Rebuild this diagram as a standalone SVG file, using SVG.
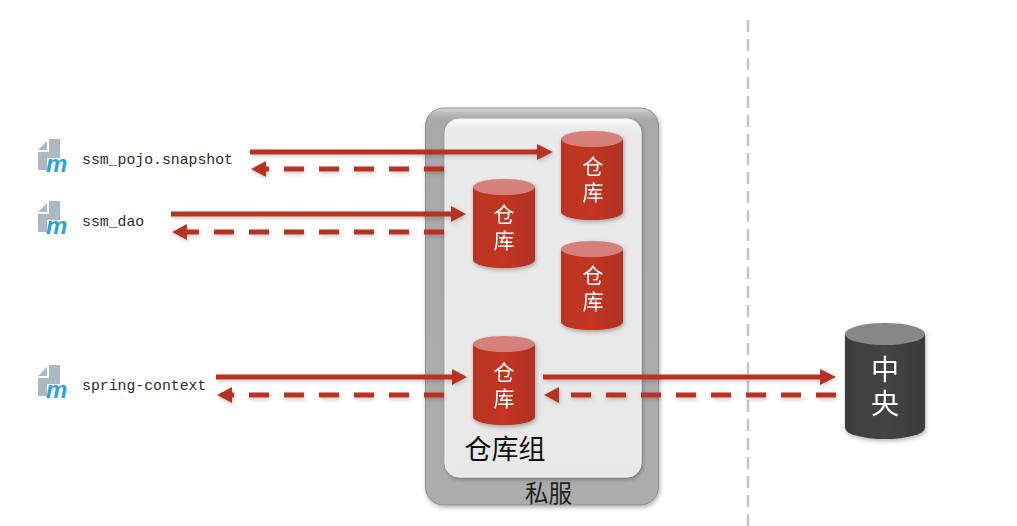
<svg xmlns="http://www.w3.org/2000/svg" width="1017" height="526" viewBox="0 0 1017 526">
<style>
.cjk{font-family:"Noto Sans CJK SC","Noto Sans CJK JP",sans-serif}
.cyl{font-size:21px;fill:#fff;writing-mode:vertical-rl;letter-spacing:5px}
.big{font-size:28px;fill:#fff;writing-mode:vertical-rl;letter-spacing:6px}
.mono{font-family:"Liberation Mono","DejaVu Sans Mono",monospace;font-size:14.8px;fill:#2a2a2a}
.solid{fill:none;stroke:#b83324;stroke-width:5}
.dash{fill:none;stroke:#b83324;stroke-width:5;stroke-dasharray:20 15}
.head{fill:#b83324}
.mm{font-family:"Liberation Sans",sans-serif;font-weight:700;font-style:italic;font-size:24px;fill:#2ea3da}
</style>
<defs>
<linearGradient id="red" x1="0" x2="1" y1="0" y2="0"><stop offset="0" stop-color="#b83322"/><stop offset=".5" stop-color="#c23624"/><stop offset="1" stop-color="#b03020"/></linearGradient>
<linearGradient id="dark" x1="0" x2="1" y1="0" y2="0"><stop offset="0" stop-color="#3d3d3d"/><stop offset=".5" stop-color="#444"/><stop offset="1" stop-color="#3a3a3a"/></linearGradient>
<linearGradient id="outer" x1="0" x2="0" y1="0" y2="1"><stop offset="0" stop-color="#dcdcdc"/><stop offset=".012" stop-color="#bdbdbd"/><stop offset=".03" stop-color="#a9a9a9"/><stop offset="1" stop-color="#adadad"/></linearGradient>
<linearGradient id="inner" x1="0" x2="0" y1="0" y2="1"><stop offset="0" stop-color="#fbfbfb"/><stop offset=".03" stop-color="#eaeaea"/><stop offset="1" stop-color="#e8e8e8"/></linearGradient>
<filter id="sh" x="-20%" y="-20%" width="140%" height="140%"><feDropShadow dx="1" dy="2" stdDeviation="2" flood-color="#000" flood-opacity=".3"/></filter>
<filter id="ash" x="-5%" y="-100%" width="110%" height="300%"><feDropShadow dx="1" dy="2" stdDeviation="2" flood-color="#000" flood-opacity=".2"/></filter>
<g id="cyl">
<path d="M0 8V81A31 8 0 0 0 62 81V8Z" fill="url(#red)"/>
<ellipse cx="31" cy="8" rx="31" ry="8" fill="#d5807a"/>
</g>
<g id="doc" fill="#adb9c2">
<path d="M11 0H22V19H11Z"/>
<path d="M0 11L9 2V11Z"/>
<path d="M0 13H11V19H9V31H0Z"/>
</g>
</defs>

<g id="sifu">
<rect x="425.500" y="108" width="233" height="397" rx="18" fill="url(#outer)" stroke="#8f8f8f" filter="url(#sh)"/>
<text class="cjk" x="548.500" y="502" font-size="23.500" text-anchor="middle" fill="#222">私服</text>
</g>
<g id="group">
<rect x="445" y="119" width="196" height="358" rx="14" fill="url(#inner)" stroke="#f4f4f4" filter="url(#sh)"/>
<text class="cjk" x="505" y="459" font-size="27" text-anchor="middle" fill="#111">仓库组</text>
</g>

<g id="repo1" filter="url(#sh)"><use href="#cyl" x="561" y="131"/><text class="cjk cyl" x="593" y="156">仓库</text></g>
<g id="repo2" filter="url(#sh)"><use href="#cyl" x="473" y="179"/><text class="cjk cyl" x="504" y="203.500">仓库</text></g>
<g id="repo3" filter="url(#sh)"><use href="#cyl" x="561" y="241"/><text class="cjk cyl" x="593" y="265">仓库</text></g>
<g id="repo4" filter="url(#sh)"><use href="#cyl" x="473" y="336"/><text class="cjk cyl" x="504" y="361.500">仓库</text></g>

<g id="central" filter="url(#sh)">
<path d="M845 334V428A40 11 0 0 0 925 428V334Z" fill="url(#dark)"/>
<ellipse cx="885" cy="334" rx="40" ry="11" fill="#878787"/>
<text class="cjk big" x="885" y="355">中央</text>
</g>

<g id="a1"><use href="#doc" x="38" y="139"/><text class="mm" x="46" y="172">m</text><text class="mono" x="82" y="164">ssm_pojo.snapshot</text></g>
<g id="a2"><use href="#doc" x="38" y="201"/><text class="mm" x="46" y="234">m</text><text class="mono" x="82" y="226">ssm_dao</text></g>
<g id="a3"><use href="#doc" x="38" y="365"/><text class="mm" x="46" y="398">m</text><text class="mono" x="82" y="390">spring-context</text></g>

<g id="divider"><path d="M748 20V526" fill="none" stroke="#c4c4c4" stroke-width="2.500" stroke-dasharray="12 7"/></g>

<g id="connectors" filter="url(#ash)">
<path class="solid" d="M250 152H538"/><path class="head" d="M553 152L537 144V160Z"/>
<path class="dash" d="M444 169H264"/><path class="head" d="M251 169L266 161V177Z"/>
<path class="solid" d="M171 214H452"/><path class="head" d="M466 214L451 206V222Z"/>
<path class="dash" d="M444 232H185"/><path class="head" d="M172 232L187 224V240Z"/>
<path class="solid" d="M216 377H453"/><path class="head" d="M467 377L452 369V385Z"/>
<path class="dash" d="M444 395H230"/><path class="head" d="M217 395L232 387V403Z"/>
<path class="solid" d="M543 377H822"/><path class="head" d="M836 377L820 369V385Z"/>
<path class="dash" d="M836 395H557"/><path class="head" d="M544 395L559 387V403Z"/>
</g>
</svg>
